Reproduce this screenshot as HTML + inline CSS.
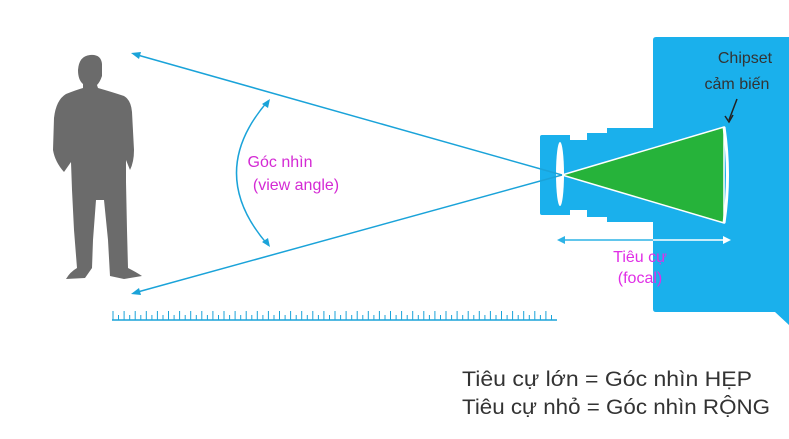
<!DOCTYPE html>
<html><head><meta charset="utf-8"><style>
body{margin:0;background:#fff;width:789px;height:439px;overflow:hidden}
svg{display:block}
</style></head><body>
<svg width="789" height="439" viewBox="0 0 789 439" xmlns="http://www.w3.org/2000/svg" font-family="Liberation Sans, sans-serif">
<path d="M656,37 L789,37 L789,325 L775,312 L656,312 Q653,312 653,309 L653,40 Q653,37 656,37Z" fill="#1ab0ec"/>
<path d="M542,135 L570,135 L570,140 L587,140 L587,133 L607,133 L607,128 L655,128 L655,222 L607,222 L607,217 L587,217 L587,210 L570,210 L570,215 L542,215 Q540,215 540,213 L540,137 Q540,135 542,135Z" fill="#1ab0ec"/>
<polygon points="562,175 724,127 724,223" fill="#26b33a" stroke="#fff" stroke-width="1.5"/>
<path d="M724,127 Q731,175 724,223" fill="none" stroke="#fff" stroke-width="3"/>
<ellipse cx="560" cy="174" rx="4" ry="32" fill="#fff"/>
<line x1="134" y1="54" x2="562" y2="175" stroke="#1aa3d9" stroke-width="1.5"/>
<line x1="134" y1="293" x2="562" y2="175" stroke="#1aa3d9" stroke-width="1.5"/>
<polygon points="131,53 141,52 139,59" fill="#1aa3d9"/>
<polygon points="131,294 139,288 141,295" fill="#1aa3d9"/>
<path d="M268,101 Q205,173 268,245" fill="none" stroke="#1aa3d9" stroke-width="1.5"/>
<polygon points="270,99 268,108 262,104" fill="#1aa3d9"/>
<polygon points="270,247 262,242 268,238" fill="#1aa3d9"/>
<line x1="560" y1="240" x2="653" y2="240" stroke="#2db3e6" stroke-width="1.5"/>
<line x1="653" y1="240" x2="728" y2="240" stroke="#fff" stroke-width="1.5"/>
<polygon points="557,240 565,236 565,244" fill="#2db3e6"/>
<polygon points="731,240 723,236 723,244" fill="#fff"/>
<g stroke="#1aa3d9" stroke-width="1" id="ticks"></g>
<line x1="112" y1="320" x2="557" y2="320" stroke="#1aa3d9" stroke-width="1.5"/>
<path d="M90,55 Q101,54 102,64 L102,76 Q100,82 97,85 L98,88 Q112,92 124,96 Q131,100 132,112 L134,150 Q134,162 130,170 L126,160 L126,182 L127,230 L128,268 Q136,272 142,276 L124,279 L110,276 L108,240 L104,200 L96,200 L93,240 L92,268 L85,278 L66,279 Q70,272 77,268 L74,230 L72,190 L71,162 L64,172 Q55,162 53,150 L54,118 Q56,100 66,94 Q76,90 83,88 L83,84 Q78,80 78,70 Q79,56 90,55Z" fill="#6b6b6b"/>
<text x="280" y="167" font-size="16" fill="#d42ad4" text-anchor="middle">Góc nhìn</text>
<text x="296" y="190" font-size="16" fill="#d42ad4" text-anchor="middle">(view angle)</text>
<text x="640" y="262" font-size="16" fill="#e02ee6" text-anchor="middle">Tiêu cự</text>
<text x="640" y="283" font-size="16" fill="#e02ee6" text-anchor="middle">(focal)</text>
<text x="745" y="63" font-size="16" fill="#333" text-anchor="middle">Chipset</text>
<text x="737" y="89" font-size="16" fill="#333" text-anchor="middle">cảm biến</text>
<path d="M737,99 L729,120" stroke="#222" stroke-width="1.5"/>
<path d="M725,116 L729,122 L733,115" stroke="#222" stroke-width="1.5" fill="none"/>
<text x="462" y="386" font-size="21" fill="#333" textLength="290" lengthAdjust="spacingAndGlyphs">Tiêu cự lớn  =  Góc nhìn HẸP</text>
<text x="462" y="414" font-size="21" fill="#333" textLength="308" lengthAdjust="spacingAndGlyphs">Tiêu cự nhỏ = Góc nhìn RỘNG</text>
</svg>
<script>
var g=document.getElementById('ticks'),s='';
for(var i=0,x=113;x<=557;i++,x+=5.55){var h=(i%2==0)?9:5;s+='<line x1="'+x.toFixed(1)+'" y1="320" x2="'+x.toFixed(1)+'" y2="'+(320-h)+'"/>';}
g.innerHTML=s;
</script>
</body></html>
